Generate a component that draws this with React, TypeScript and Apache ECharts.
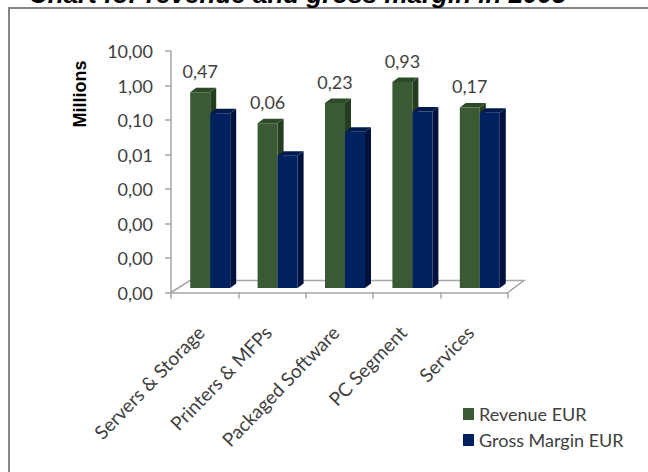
import React, { useEffect, useRef } from "react";
import * as echarts from "echarts";

const categories = ["Servers & Storage", "Printers & MFPs", "Packaged Software", "PC Segment", "Services"];
const revenueEur = [0.47, 0.06, 0.23, 0.93, 0.17];
const grossMarginEur = [0.117, 0.0068, 0.034, 0.13, 0.12];

const AXIS_MIN = 0.000001;
const AXIS_MAX = 10;
const GRID = { left: 171, right: 140, top: 51, bottom: 179.5 };

// Oblique projection of the box bars and of the floor they stand on.
const BAR_W = 20;
const BAR_SHIFT_X = 5.5;
const BAR_LIFT = 4.5;
const DEPTH_X = 6;
const DEPTH_Y = 4.5;

const AXIS_GREY = "#a6a6a6";
const TEXT = "#404040";
const LABEL_FONT = "Lato";

const fmt = (v: number) => v.toFixed(2).replace(".", ",");

function boxBar(api: any, seriesOffset: number, front: string, side: string, top: string, showLabel: boolean) {
  const idx = api.value(0);
  const value = api.value(1);
  const [cx, valueY] = api.coord([idx, value]);
  const [, floorY] = api.coord([idx, AXIS_MIN]);
  const x0 = cx + BAR_SHIFT_X + seriesOffset * BAR_W;
  const x1 = x0 + BAR_W;
  const yT = valueY - BAR_LIFT;
  const yB = floorY - BAR_LIFT;
  const children: any[] = [
    {
      type: "polygon",
      shape: { points: [[x1, yT], [x1 + DEPTH_X, yT - DEPTH_Y], [x1 + DEPTH_X, yB - DEPTH_Y], [x1, yB]] },
      style: { fill: side },
    },
    {
      type: "polygon",
      shape: { points: [[x0, yT], [x0 + DEPTH_X, yT - DEPTH_Y], [x1 + DEPTH_X, yT - DEPTH_Y], [x1, yT]] },
      style: { fill: top },
    },
    { type: "rect", shape: { x: x0, y: yT, width: BAR_W, height: yB - yT }, style: { fill: front } },
  ];
  if (showLabel) {
    children.push({
      type: "text",
      x: x0 + BAR_W / 2,
      y: yT - DEPTH_Y - 17,
      style: {
        text: fmt(value),
        fill: TEXT,
        font: `18px ${LABEL_FONT}`,
        align: "center",
        verticalAlign: "middle",
      },
    });
  }
  return { type: "group", children };
}

function floor(params: any, api: any) {
  const [xL, y] = api.coord([0, AXIS_MIN]);
  const band = api.size([1, 0])[0];
  const left = xL - band / 2;
  const right = left + band * categories.length;
  const backDx = 16;
  const backDy = 12;
  return {
    type: "polyline",
    shape: {
      points: [[left, y], [left + backDx + 3, y - backDy], [right + backDx, y - backDy], [right, y]],
    },
    style: { stroke: AXIS_GREY, lineWidth: 1.5, fill: "none" },
  };
}

export default function App() {
  const ref = useRef<HTMLDivElement>(null);

  useEffect(() => {
    document.body.style.margin = "0";
    const chart = echarts.init(ref.current!, undefined, { renderer: "svg" });
    const revenueRows = categories.map((_, i) => [i, revenueEur[i]]);
    const marginRows = categories.map((_, i) => [i, grossMarginEur[i]]);

    chart.setOption({
      animation: false,
      backgroundColor: "#ffffff",
      textStyle: { fontFamily: LABEL_FONT },
      grid: GRID,
      graphic: [
        {
          type: "rect",
          z: -1,
          shape: { x: 9, y: 8, width: 700, height: 520 },
          style: { fill: "#ffffff", stroke: "#868686", lineWidth: 2 },
        },
        {
          type: "text",
          x: 80,
          y: 94,
          rotation: Math.PI / 2,
          style: {
            text: "Millions",
            font: "bold 18px 'Liberation Sans'",
            fill: "#000000",
            align: "center",
            verticalAlign: "middle",
          },
        },
      ],
      title: {
        text: "Chart for revenue and gross margin in 2005",
        left: 24,
        top: -24,
        textStyle: {
          fontFamily: "Liberation Sans",
          fontStyle: "italic",
          fontWeight: "bold",
          fontSize: 26,
          color: "#000000",
        },
      },
      legend: {
        left: 463,
        top: 405,
        orient: "vertical",
        align: "left",
        padding: 0,
        itemWidth: 11,
        itemHeight: 12,
        itemGap: 8,
        icon: "rect",
        data: ["Revenue EUR", "Gross Margin EUR"],
        textStyle: { fontFamily: LABEL_FONT, fontSize: 18, lineHeight: 18, color: TEXT },
      },
      xAxis: {
        type: "category",
        data: categories,
        boundaryGap: true,
        axisLine: { lineStyle: { color: AXIS_GREY, width: 1.5 } },
        axisTick: { show: true, alignWithLabel: false, length: 6, lineStyle: { color: AXIS_GREY, width: 1.5 } },
        axisLabel: {
          interval: 0,
          rotate: 46,
          margin: 32,
          padding: [0, 6, 0, 0],
          fontFamily: LABEL_FONT,
          fontSize: 19,
          color: TEXT,
        },
      },
      yAxis: {
        type: "log",
        logBase: 10,
        min: AXIS_MIN,
        max: AXIS_MAX,
        splitLine: { show: false },
        minorTick: { show: false },
        axisLine: { show: true, lineStyle: { color: AXIS_GREY, width: 1.5 } },
        axisTick: { show: true, length: 6, lineStyle: { color: AXIS_GREY, width: 1.5 } },
        axisLabel: {
          margin: 18,
          fontFamily: LABEL_FONT,
          fontSize: 18,
          color: TEXT,
          formatter: (v: number) => fmt(v),
        },
      },
      series: [
        {
          name: "floor",
          type: "custom",
          silent: true,
          z: 1,
          clip: false,
          data: [[0, AXIS_MIN]],
          renderItem: floor,
        },
        {
          name: "Revenue EUR",
          type: "custom",
          z: 2,
          clip: false,
          itemStyle: { color: "#3a5a33" },
          data: revenueRows,
          encode: { x: 0, y: 1 },
          renderItem: (_p: any, api: any) => boxBar(api, -1, "#3a5a33", "#243d1f", "#2e4a29", true),
        },
        {
          name: "Gross Margin EUR",
          type: "custom",
          z: 3,
          clip: false,
          itemStyle: { color: "#00215f" },
          data: marginRows,
          encode: { x: 0, y: 1 },
          renderItem: (_p: any, api: any) => boxBar(api, 0, "#00215f", "#00123c", "#001a4e", false),
        },
      ],
    });
    return () => chart.dispose();
  }, []);

  return <div ref={ref} style={{ width: 648, height: 472 }} />;
}
